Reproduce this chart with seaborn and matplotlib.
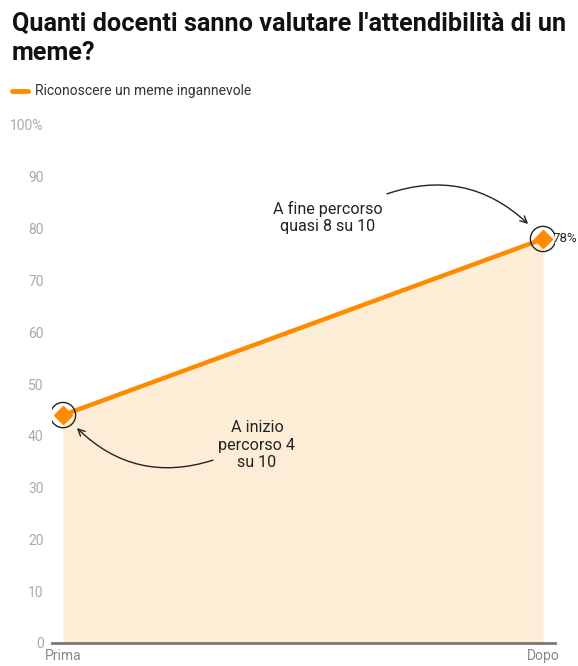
import matplotlib
matplotlib.use("Agg")
import matplotlib.pyplot as plt
import seaborn as sns
import pandas as pd

categories = ["Prima", "Dopo"]
values = [44, 78]
series_name = "Riconoscere un meme ingannevole"
y_ticks = [0, 10, 20, 30, 40, 50, 60, 70, 80, 90, 100]
y_ticklabels = ["0", "10", "20", "30", "40", "50", "60", "70", "80", "90", "100%"]
title = "Quanti docenti sanno valutare l'attendibilità di un\nmeme?"
note_end = "A fine percorso\nquasi 8 su 10"
note_start = "A inizio\npercorso 4\nsu 10"

sns.set_theme(style="white")
plt.rcParams['font.family'] = ['Roboto', 'DejaVu Sans']

ORANGE = "#FF8A00"
FILL = "#FEEDD6"

df = pd.DataFrame({"pos": list(range(len(categories))), "value": values, "serie": series_name})

fig = plt.figure(figsize=(5.78, 6.66), dpi=100)
ax = fig.add_axes([52/578, 23/666, (555-52)/578, (643-125)/666])

ax.fill_between(df["pos"], 0, df["value"], color=FILL, lw=0, zorder=1)
sns.lineplot(data=df, x="pos", y="value", color=ORANGE, lw=3.2, ax=ax, zorder=3, legend=False)
ax.plot(df["pos"], df["value"], ls="none", marker="D", ms=9, color=ORANGE, zorder=4)
ax.scatter(df["pos"], df["value"], s=330, facecolors="none", edgecolors="#222222", lw=1.0, zorder=5)

ax.set_xlim(-11/480, 1 + 12/480)
ax.set_ylim(0, 100)
ax.set_xticks(df["pos"])
ax.set_xticklabels(categories, color="#888888", fontsize=10)
ax.set_yticks(y_ticks)
ax.set_yticklabels(y_ticklabels, color="#AAAAAA", fontsize=10)
ax.tick_params(axis="both", length=0)
ax.tick_params(axis="y", pad=6)
ax.tick_params(axis="x", pad=4)
ax.set_xlabel("")
ax.set_ylabel("")
for s in ["top", "right", "left"]:
    ax.spines[s].set_visible(False)
ax.spines["bottom"].set_color("#777777")
ax.spines["bottom"].set_linewidth(2)
ax.spines["bottom"].set_zorder(6)
ax.patch.set_alpha(0)

# value label
ax.annotate(f"{values[1]}%", xy=(df["pos"][1], values[1]), xytext=(7, 0),
            textcoords="offset points", ha="left", va="center", fontsize=9.5,
            color="#222222", annotation_clip=False)

# annotations
ax.text(0.552, 82.1, note_end, ha="center", va="center", fontsize=11.6, color="#222222", linespacing=1.2)
ax.text(0.404, 38.2, note_start, ha="center", va="center", fontsize=11.6, color="#222222", linespacing=1.2)
ax.annotate("", xy=(0.969, 80.9), xytext=(0.675, 86.7),
            arrowprops=dict(arrowstyle="->", color="#222222", lw=1.0,
                            connectionstyle="arc3,rad=-0.3", shrinkA=0, shrinkB=0))
ax.annotate("", xy=(0.029, 41.5), xytext=(0.3125, 35.3),
            arrowprops=dict(arrowstyle="->", color="#222222", lw=1.0,
                            connectionstyle="arc3,rad=-0.3", shrinkA=0, shrinkB=0))

# title and legend
fig.text(12/578, 1 - 12/666, title, ha="left", va="top", fontsize=18.2, fontweight="bold",
         color="#111111", linespacing=1.27)
fig.add_artist(plt.Line2D([12/578, 28/578], [1 - 91/666, 1 - 91/666], color=ORANGE, lw=3.5,
                          solid_capstyle="round"))
fig.text(35/578, 1 - 91/666, series_name, ha="left", va="center", fontsize=10, color="#333333")

fig.savefig("out.png", dpi=100)
